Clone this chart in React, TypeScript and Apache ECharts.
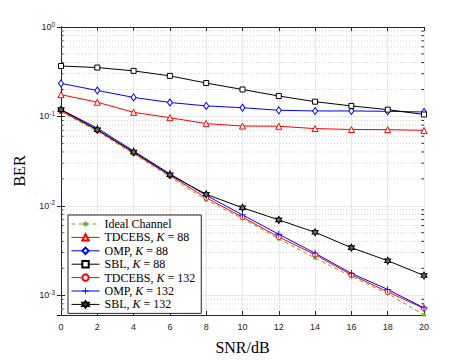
import React, { useEffect, useRef } from "react";
import * as echarts from "echarts";

const snr = [0, 2, 4, 6, 8, 10, 12, 14, 16, 18, 20];
const ideal = [0.113, 0.068, 0.038, 0.021, 0.0116, 0.0072, 0.00426, 0.0026, 0.00162, 0.00104, 0.0006];
const tdcebs88 = [0.175, 0.144, 0.111, 0.0967, 0.083, 0.078, 0.0776, 0.073, 0.0714, 0.071, 0.0697];
const omp88 = [0.234, 0.195, 0.163, 0.143, 0.131, 0.125, 0.117, 0.115, 0.115, 0.114, 0.112];
const sbl88 = [0.366, 0.352, 0.323, 0.284, 0.236, 0.2, 0.169, 0.146, 0.131, 0.119, 0.105];
const tdcebs132 = [0.115, 0.07, 0.039, 0.0218, 0.0123, 0.00745, 0.00447, 0.00284, 0.00169, 0.00109, 0.00071];
const omp132 = [0.119, 0.074, 0.041, 0.0228, 0.0131, 0.0079, 0.0048, 0.00295, 0.00175, 0.00116, 0.00072];
const sbl132 = [0.119, 0.071, 0.04, 0.0222, 0.01345, 0.0095, 0.00695, 0.00505, 0.0034, 0.00243, 0.00166];

const seriesNames = [
  "Ideal Channel",
  "TDCEBS, K = 88",
  "OMP, K = 88",
  "SBL, K = 88",
  "TDCEBS, K = 132",
  "OMP, K = 132",
  "SBL, K = 132",
];

const Y_MIN = 0.0006;
const Y_MAX = 1;
const X_MIN = 0;
const X_MAX = 20;

const HEX =
  "path://M0,-10L2.887,-5L8.66,-5L5.77,0L8.66,5L2.887,5L0,10L-2.887,5L-8.66,5L-5.77,0L-8.66,-5L-2.887,-5Z";
const PLUS = "path://M4.4,0h1.2v4.4h4.4v1.2h-4.4v4.4h-1.2v-4.4h-4.4v-1.2h4.4z";

const GREEN = "#77AC30";
const RED = "#FF0000";
const BLUE = "#0000FF";
const BLACK = "#000000";

function minorValues(): number[] {
  const out: number[] = [];
  for (let e = -4; e <= 0; e++) {
    for (let m = 2; m <= 9; m++) {
      const v = m * Math.pow(10, e);
      if (v > Y_MIN * 1.0001 && v < Y_MAX) out.push(v);
    }
  }
  return out;
}

export default function App() {
  const ref = useRef<HTMLDivElement>(null);
  useEffect(() => {
    document.body.style.margin = "0";
    if (!ref.current) return;
    const chart = echarts.init(ref.current, undefined, { renderer: "svg" });
    const pair = (arr: number[]) => snr.map((x, i) => [x, arr[i]]);
    const axisColor = "#262626";
    const tickFont = "Liberation Sans";
    const serif = "Liberation Serif";

    const lineSeries = (
      name: string,
      data: number[],
      color: string,
      symbol: string,
      symbolSize: any,
      hollow: boolean,
      extra: any = {}
    ) => ({
      name,
      type: "line",
      data: pair(data),
      symbol,
      symbolSize,
      showSymbol: true,
      lineStyle: { color, width: 1, ...(extra.lineStyle || {}) },
      itemStyle: hollow
        ? { color: "#ffffff", borderColor: color, borderWidth: 1 }
        : { color, borderWidth: 0, ...(extra.itemStyle || {}) },
      z: extra.z ?? 3,
      emphasis: { disabled: true },
    });

    const legendText = { fontFamily: serif, fontSize: 12, color: "#000", lineHeight: 10 };

    const option: any = {
      animation: false,
      backgroundColor: "#ffffff",
      grid: { left: 61, right: 45, top: 27, bottom: 40, containLabel: false },
      legend: {
        data: seriesNames,
        orient: "vertical",
        left: 68,
        top: 215,
        itemWidth: 28,
        itemHeight: 8,
        itemGap: 1.4,
        itemTextGap: 3,
        padding: [3, 6, 3, 3],
        borderColor: axisColor,
        borderWidth: 1,
        backgroundColor: "#ffffff",
        selectedMode: false,
        lineStyle: { width: 1 },
        textStyle: {
          ...legendText,
          rich: {
            a: { ...legendText },
            i: { ...legendText, fontStyle: "italic" },
          },
        },
        formatter: (name: string) => {
          const idx = name.indexOf("K");
          if (idx < 0) return `{a|${name}}`;
          return `{a|${name.slice(0, idx)}}{i|K}{a|${name.slice(idx + 1)}}`;
        },
      },
      xAxis: [
        {
          type: "value",
          min: X_MIN,
          max: X_MAX,
          interval: 2,
          name: "SNR/dB",
          nameLocation: "middle",
          nameGap: 24,
          nameTextStyle: { fontFamily: serif, fontSize: 16, color: "#000" },
          axisLine: { show: true, lineStyle: { color: axisColor, width: 1 } },
          axisTick: { show: true, inside: true, length: 4, lineStyle: { color: axisColor } },
          axisLabel: { fontFamily: tickFont, fontSize: 9, color: axisColor, margin: 7 },
          splitLine: { show: true, lineStyle: { color: "#e8e8e8", width: 1 } },
        },
        {
          type: "value",
          position: "top",
          min: X_MIN,
          max: X_MAX,
          interval: 2,
          axisLine: { show: true, lineStyle: { color: axisColor, width: 1 } },
          axisTick: { show: true, inside: true, length: 4, lineStyle: { color: axisColor } },
          axisLabel: { show: false },
          splitLine: { show: false },
        },
      ],
      yAxis: [
        {
          type: "log",
          logBase: 10,
          min: Y_MIN,
          max: Y_MAX,
          name: "BER",
          nameLocation: "middle",
          nameGap: 34,
          nameTextStyle: { fontFamily: serif, fontSize: 16, color: "#000" },
          axisLine: { show: true, lineStyle: { color: axisColor, width: 1 } },
          axisTick: { show: true, inside: true, length: 4, lineStyle: { color: axisColor } },
          axisLabel: {
            fontFamily: tickFont,
            fontSize: 9,
            color: axisColor,
            margin: 6,
            formatter: (v: number) => {
              const l = Math.log10(v);
              const e = Math.round(l);
              if (Math.abs(l - e) > 1e-6) return "";
              return `{b|10}{s|${e}}`;
            },
            rich: {
              b: { fontFamily: tickFont, fontSize: 9, color: axisColor },
              s: { fontFamily: tickFont, fontSize: 6.5, color: axisColor, padding: [0, 0, 6, 0] },
            },
          },
          splitLine: { show: true, lineStyle: { color: "#e8e8e8", width: 1 } },
        },
        {
          type: "log",
          logBase: 10,
          position: "right",
          min: Y_MIN,
          max: Y_MAX,
          axisLine: { show: true, lineStyle: { color: axisColor, width: 1 } },
          axisTick: { show: true, inside: true, length: 4, lineStyle: { color: axisColor } },
          axisLabel: { show: false },
          splitLine: { show: false },
        },
      ],
      series: [
        {
          type: "custom",
          name: "minor",
          silent: true,
          z: 1,
          clip: false,
          data: minorValues().map((v) => [X_MIN, v]),
          renderItem: (params: any, api: any) => {
            const v = api.value(1);
            const p0 = api.coord([X_MIN, v]);
            const p1 = api.coord([X_MAX, v]);
            return {
              type: "group",
              children: [
                {
                  type: "line",
                  shape: { x1: p0[0], y1: p0[1], x2: p1[0], y2: p1[1] },
                  style: { stroke: "#cfcfcf", lineWidth: 1, lineDash: [1, 2] },
                },
                {
                  type: "line",
                  shape: { x1: p0[0], y1: p0[1], x2: p0[0] + 2.5, y2: p0[1] },
                  style: { stroke: axisColor, lineWidth: 1 },
                },
                {
                  type: "line",
                  shape: { x1: p1[0] - 2.5, y1: p1[1], x2: p1[0], y2: p1[1] },
                  style: { stroke: axisColor, lineWidth: 1 },
                },
              ],
            };
          },
        },
        lineSeries(seriesNames[0], ideal, GREEN, HEX, 5, false, {
          lineStyle: { type: [4, 3] },
          z: 2,
        }),
        lineSeries(seriesNames[1], tdcebs88, RED, "triangle", 6, true),
        lineSeries(seriesNames[2], omp88, BLUE, "diamond", [5, 7], true),
        lineSeries(seriesNames[3], sbl88, BLACK, "rect", 5, true),
        lineSeries(seriesNames[4], tdcebs132, RED, "circle", 5, true),
        lineSeries(seriesNames[5], omp132, BLUE, PLUS, 7, false),
        {
          ...lineSeries(seriesNames[6], sbl132, BLACK, HEX, [6, 7], false),
          itemStyle: { color: "#666666", borderColor: BLACK, borderWidth: 1 },
        },
      ],
    };
    chart.setOption(option);
    return () => chart.dispose();
  }, []);
  return <div ref={ref} style={{ width: 469, height: 360 }} />;
}
